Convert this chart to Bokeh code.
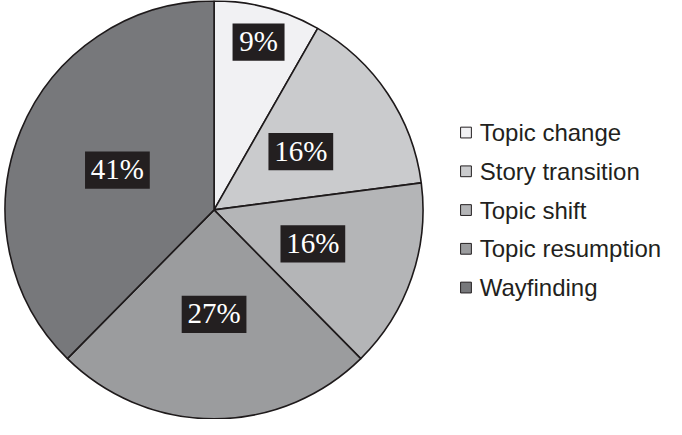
import numpy as np
from bokeh.plotting import figure
from bokeh.models import Range1d
from bokeh.core.properties import value
from bokeh.embed import file_html
from bokeh.resources import INLINE

# ---- data ----
categories = ["Topic change", "Story transition", "Topic shift", "Topic resumption", "Wayfinding"]
shares = [9, 16, 16, 27, 41]
labels = ["9%", "16%", "16%", "27%", "41%"]
colors = ["#f1f1f3", "#cacbcd", "#b4b5b7", "#9b9c9e", "#77787b"]

# ---- layout / style ----
S = 0.981
W, H = 666, 419
label_r = [0.83, 0.5, 0.5, 0.5, 0.5]
box_w = [53 if len(l) == 2 else 66 for l in labels]

p = figure(width=W, height=H, output_backend="svg", toolbar_location=None,
           x_range=Range1d(3, 3 + W / S), y_range=Range1d(-436, -436 + H / S),
           x_axis_type=None, y_axis_type=None, min_border=0)
p.grid.visible = False
p.outline_line_color = None

cx, cy, R = 220.7, -222.3, 213.0
frac = np.array(shares, dtype=float) / sum(shares)
cum = np.concatenate([[0.0], np.cumsum(frac)])
start = np.pi / 2 - 2 * np.pi * cum[:-1]
end = np.pi / 2 - 2 * np.pi * cum[1:]

p.wedge(x=cx, y=cy, radius=R, start_angle=list(start), end_angle=list(end),
        direction="clock", fill_color=colors, line_color="#1e1a1b", line_width=1.6)

mid = (start + end) / 2
lx = cx + np.array(label_r) * R * np.cos(mid)
ly = cy + np.array(label_r) * R * np.sin(mid)
p.rect(x=list(lx), y=list(ly), width=[w * S for w in box_w], height=38 * S,
       width_units="screen", height_units="screen",
       fill_color="#231f20", line_color=None)
p.text(x=list(lx), y=list(ly + 1), text=labels, text_color="white",
       text_font=value("Liberation Serif"), text_font_size="29px",
       text_align="center", text_baseline="middle")

# legend
ly0 = [-(143.5 + 39.5 * i) for i in range(len(categories))]
p.rect(x=[477.5] * len(categories), y=ly0, width=11 * S, height=11 * S,
       width_units="screen", height_units="screen",
       fill_color=colors, line_color="#231f20", line_width=1)
p.text(x=[491.5] * len(categories), y=ly0, text=categories, text_color="#231f20",
       text_font=value("Liberation Sans"), text_font_size="24px",
       text_align="left", text_baseline="middle")

open("out.html", "w").write(file_html(p, INLINE))
